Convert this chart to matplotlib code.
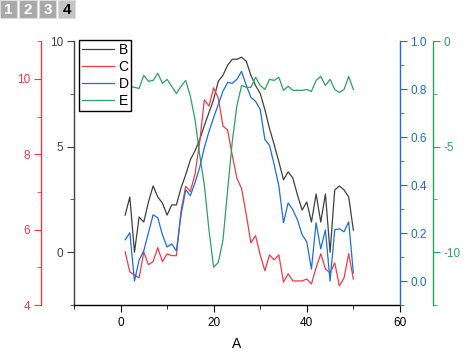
import matplotlib
matplotlib.use("Agg")
from matplotlib import pyplot as plt
from matplotlib.patches import Rectangle
from matplotlib.ticker import MultipleLocator
import numpy as np

plt.rcParams["font.family"] = ["Liberation Sans", "DejaVu Sans"]
plt.rcParams["axes.unicode_minus"] = False

# Data
x = np.arange(1, 51)
b = [1.76, 2.62, 0.0, 1.67, 1.43, 2.38, 3.14, 2.62, 2.33, 1.76,
     2.24, 2.24, 3.05, 3.67, 4.38, 4.81, 5.33, 6.0, 6.62, 7.24,
     8.1, 8.38, 8.86, 9.14, 9.14, 9.24, 9.05, 8.38, 7.9, 7.52,
     6.76, 5.86, 5.1, 4.29, 3.43, 3.81, 3.52, 2.71, 2.0, 2.38,
     1.43, 2.76, 1.43, 2.76, 0.0, 2.95, 3.14, 2.95, 2.62, 1.05]
c = [5.41, 4.88, 4.8, 4.72, 5.41, 5.07, 5.15, 5.52, 5.15, 5.36,
     5.31, 5.31, 6.5, 7.15, 7.01, 7.47, 8.32, 9.44, 9.28, 9.76,
     9.49, 8.75, 8.64, 7.97, 7.36, 7.09, 6.4, 5.65, 5.84, 5.33,
     4.91, 5.33, 5.2, 5.33, 4.61, 4.83, 4.64, 4.64, 4.64, 4.69,
     4.56, 4.99, 5.36, 4.96, 4.85, 5.12, 4.51, 4.72, 5.36, 4.69]
d = [0.172, 0.201, 0.0, 0.088, 0.126, 0.201, 0.276, 0.264, 0.193, 0.142,
     0.155, 0.126, 0.276, 0.38, 0.356, 0.41, 0.473, 0.556, 0.623, 0.682,
     0.736, 0.791, 0.828, 0.824, 0.841, 0.874, 0.816, 0.766, 0.749, 0.715,
     0.59, 0.565, 0.485, 0.397, 0.243, 0.326, 0.297, 0.255, 0.193, 0.163,
     0.05, 0.243, 0.134, 0.213, 0.0, 0.213, 0.218, 0.205, 0.247, 0.033]
e = [-1.62, -2.14, -2.19, -2.24, -1.62, -1.9, -1.86, -1.52, -2.0, -1.81,
     -2.14, -2.48, -2.14, -1.86, -2.62, -3.71, -5.38, -6.81, -8.95, -10.71,
     -10.48, -9.43, -7.05, -4.76, -3.05, -2.1, -2.19, -2.19, -1.71, -2.1,
     -2.29, -1.81, -1.86, -1.71, -2.33, -2.14, -2.33, -2.33, -2.33, -2.29,
     -2.38, -1.86, -1.67, -2.1, -1.81, -2.29, -2.43, -2.29, -1.67, -2.29]

gray = "#404040"
red = "#f03a47"
blue = "#1a6ee0"
green = "#2aa262"

fig = plt.figure(figsize=(4.77, 3.64), dpi=100)
ax = fig.add_axes([0.155, 0.162, 0.6834, 0.725])
ax_c = ax.twinx()
ax_d = ax.twinx()
ax_e = ax.twinx()

lb, = ax.plot(x, b, color=gray, lw=0.9, label="B")
lc, = ax_c.plot(x, c, color=red, lw=0.9, label="C")
ld, = ax_d.plot(x, d, color=blue, lw=0.9, label="D")
le, = ax_e.plot(x, e, color=green, lw=0.9, label="E")

ax.set_xlim(-10, 60)
ax.set_ylim(-2.5, 10)
ax_c.set_ylim(4, 11)
ax_d.set_ylim(-0.1, 1.0)
ax_e.set_ylim(-12.5, 0)

ax.xaxis.set_major_locator(MultipleLocator(20))
ax.xaxis.set_minor_locator(MultipleLocator(10))
ax.yaxis.set_major_locator(MultipleLocator(5))
ax.yaxis.set_minor_locator(MultipleLocator(2.5))
ax_c.yaxis.set_major_locator(MultipleLocator(2))
ax_c.yaxis.set_minor_locator(MultipleLocator(1))
ax_d.yaxis.set_major_locator(MultipleLocator(0.2))
ax_d.yaxis.set_minor_locator(MultipleLocator(0.1))
ax_e.yaxis.set_major_locator(MultipleLocator(5))
ax_e.yaxis.set_minor_locator(MultipleLocator(2.5))

# spines
for a in (ax, ax_c, ax_d, ax_e):
    for s in a.spines.values():
        s.set_visible(False)

ax.spines["left"].set_visible(True)
ax.spines["left"].set_color(gray)
ax.spines["bottom"].set_visible(True)
ax.spines["bottom"].set_color("black")

# offset axes sit 33 px (about 24 pt) away from the plot
ax_c.yaxis.set_label_position("left")
ax_c.yaxis.tick_left()
ax_c.spines["left"].set_visible(True)
ax_c.spines["left"].set_position(("outward", 24))
ax_c.spines["left"].set_color(red)

ax_d.spines["right"].set_visible(True)
ax_d.spines["right"].set_color(blue)

ax_e.spines["right"].set_visible(True)
ax_e.spines["right"].set_position(("outward", 24))
ax_e.spines["right"].set_color(green)

for a in (ax, ax_c, ax_d, ax_e):
    for s in a.spines.values():
        s.set_linewidth(1.0)

ax.tick_params(axis="x", which="both", direction="out", colors="black", labelsize=8.5)
ax.tick_params(axis="x", which="major", length=5)
ax.tick_params(axis="x", which="minor", length=3)

for a, col in ((ax, gray), (ax_c, red), (ax_d, blue), (ax_e, green)):
    a.tick_params(axis="y", which="both", direction="out", colors=col, labelsize=8.5)
    a.tick_params(axis="y", which="major", length=5, pad=2.5)
    a.tick_params(axis="y", which="minor", length=3)

ax.set_xlabel("A", fontsize=10, labelpad=6)

leg = ax_e.legend(handles=[lb, lc, ld, le], loc="upper left",
                  bbox_to_anchor=(0.015, 1.003), borderaxespad=0,
                  fontsize=10, handlelength=2.3, handletextpad=0.35,
                  labelspacing=0.22, borderpad=0.2, fancybox=False,
                  framealpha=1, edgecolor="black")
leg.get_frame().set_linewidth(1.0)

# layer tabs in the top-left corner
tab_w, tab_h = 17 / 477, 18 / 364
for i, name in enumerate(["1", "2", "3", "4"]):
    x0 = (i * 19.5) / 477
    y0 = 1 - tab_h
    active = name == "4"
    face = "#c4c4c4" if active else "#a9a9a9"
    fig.add_artist(Rectangle((x0, y0), tab_w, tab_h, transform=fig.transFigure,
                             facecolor=face, edgecolor="#dcdcdc", lw=0.8))
    fig.text(x0 + tab_w / 2, y0 + tab_h / 2 - 0.002, name,
             ha="center", va="center", fontsize=11, fontweight="bold",
             color="black" if active else "white")

fig.savefig("out.png", dpi=100)
